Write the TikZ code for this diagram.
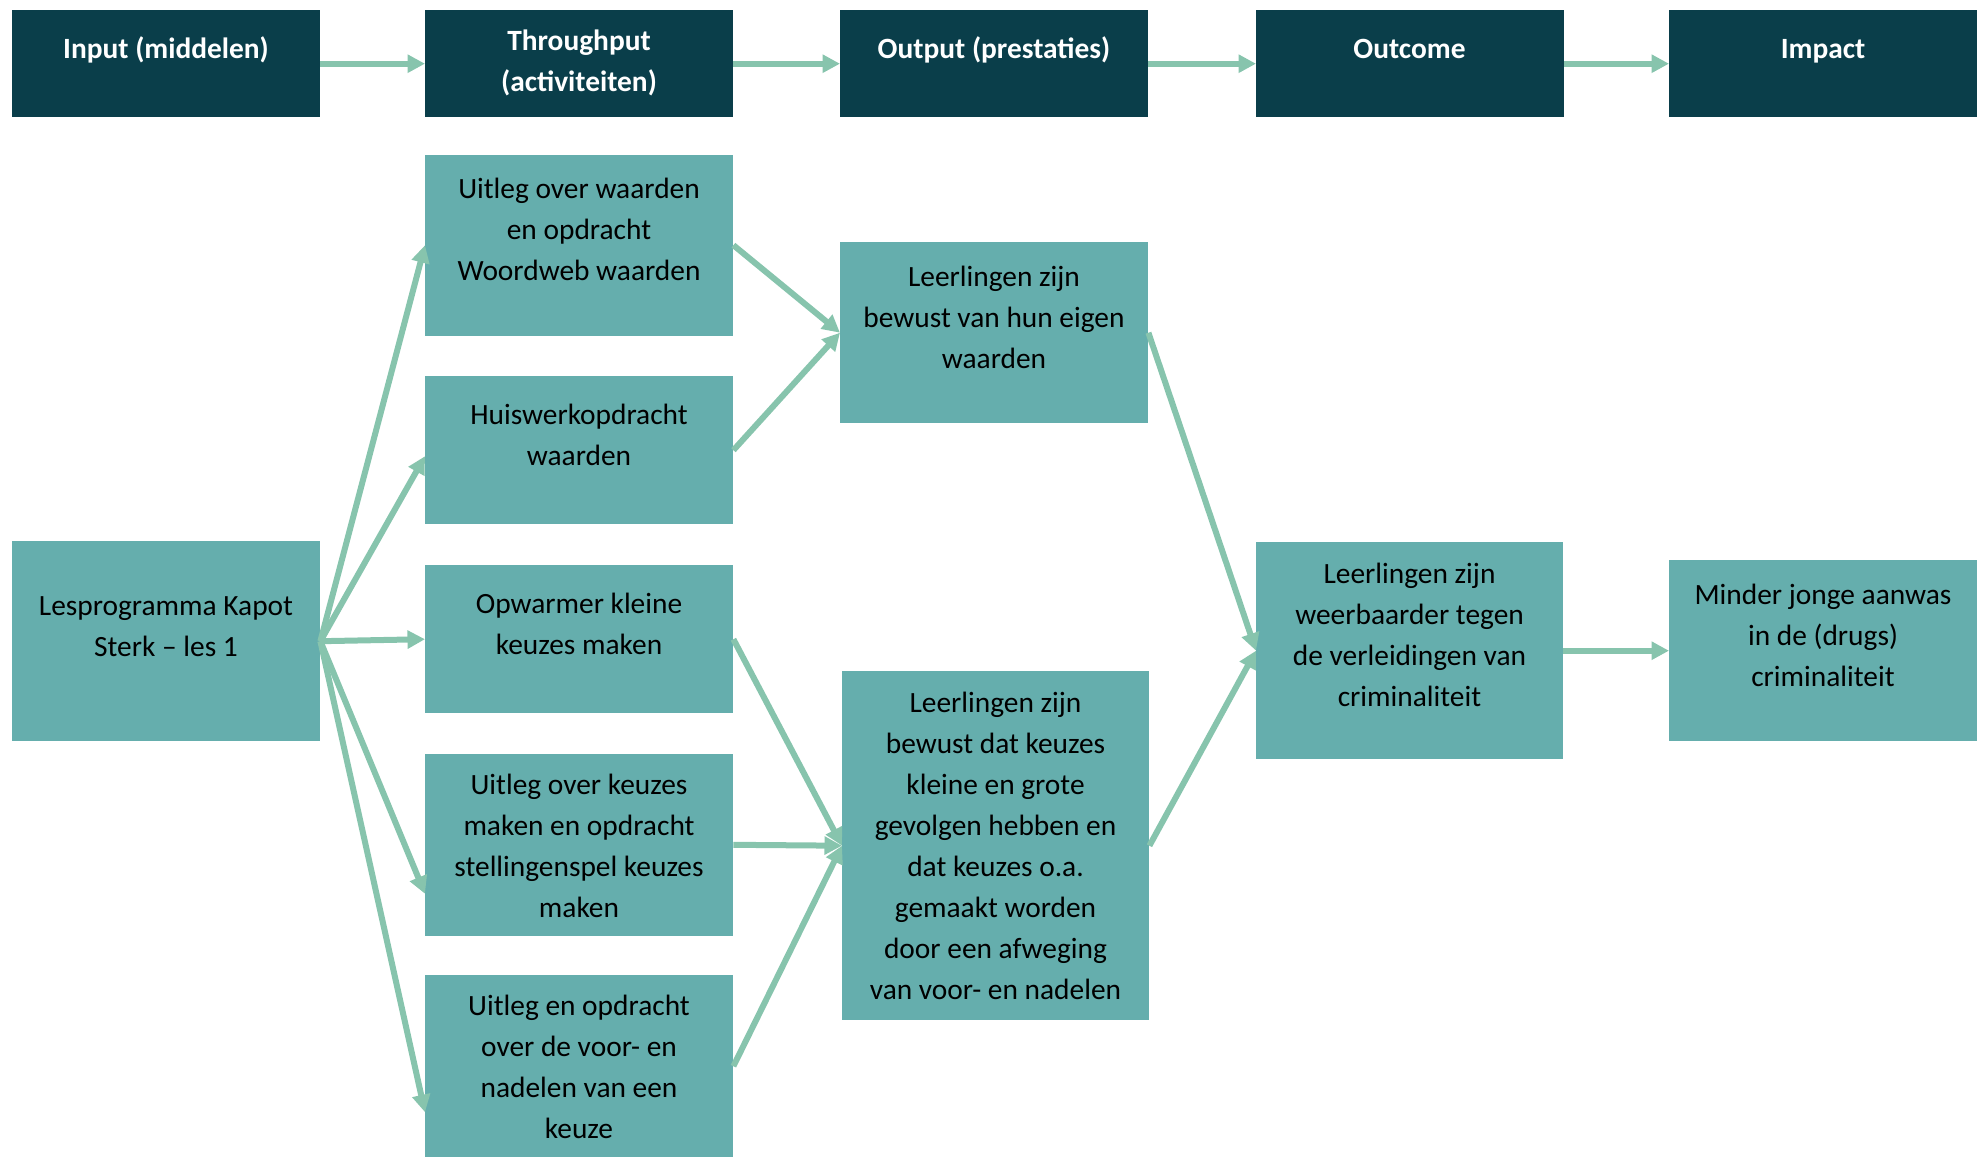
\documentclass[tikz,border=0pt]{standalone}
\usepackage{fontspec}
\setmainfont{Carlito}
\usetikzlibrary{arrows.meta}
\definecolor{headbg}{HTML}{0A3E4A}
\definecolor{boxbg}{HTML}{65AEAD}
\definecolor{linkc}{HTML}{87C4AD}

\begin{document}
\begin{tikzpicture}[x=1pt,y=-1pt,
  hbox/.style={fill=headbg, inner sep=0pt, anchor=north west, minimum width=308pt},
  bbox/.style={fill=boxbg, inner sep=0pt, anchor=north west, minimum width=308pt},
  htxt/.style={text=white, font=\fontsize{29.4}{41}\selectfont\bfseries, align=center, inner sep=0pt},
  btxt/.style={text=black, font=\fontsize{29.4}{41}\selectfont, align=center, inner sep=0pt},
  link/.style={draw=linkc, line width=6pt, -{Triangle[length=17.5pt,width=17.5pt]}}]

\useasboundingbox (0,0) rectangle (1986,1157);

% header row
\node[hbox, minimum height=107pt] (hin)  at (12,10)   {};
\node[hbox, minimum height=107pt] (hthr) at (425,10)  {};
\node[hbox, minimum height=107pt] (hout) at (840,10)  {};
\node[hbox, minimum height=107pt] (hoc)  at (1256,10) {};
\node[hbox, minimum height=107pt] (himp) at (1669,10) {};

\node[htxt, anchor=base] (hin-t)  at (166,58.5)    {Input (middelen)};
\node[htxt] (hthr-t) at (579,63)  {Throughput\\(activiteiten)};
\node[htxt, anchor=base] (hout-t) at (994,58.5)    {Output (prestaties)};
\node[htxt, anchor=base] (hoc-t)  at (1409.5,58.5) {Outcome};
\node[htxt, anchor=base] (himp-t) at (1823,58.5)   {Impact};

\draw[link] (hin.east)  -- (hthr.west);
\draw[link] (hthr.east) -- (hout.west);
\draw[link] (hout.east) -- (hoc.west);
\draw[link] (hoc.east)  -- (himp.west);

% input
\node[bbox, minimum height=200pt] (les) at (12,541) {};
\node[btxt] (les-t) at (166,627) {Lesprogramma Kapot\\Sterk – les 1};

% activities
\node[bbox, minimum height=181pt] (t1) at (425,154.5) {};
\node[bbox, minimum height=148pt] (t2) at (425,376)   {};
\node[bbox, minimum height=148pt] (t3) at (425,565)   {};
\node[bbox, minimum height=182pt] (t4) at (425,753.6) {};
\node[bbox, minimum height=182pt] (t5) at (425,975)   {};

\node[btxt] (t1-t) at (579,229)   {Uitleg over waarden\\en opdracht\\Woordweb waarden};
\node[btxt] (t2-t) at (579,434.5) {Huiswerkopdracht\\waarden};
\node[btxt] (t3-t) at (579,624)   {Opwarmer kleine\\keuzes maken};
\node[btxt] (t4-t) at (579,845.5) {Uitleg over keuzes\\maken en opdracht\\stellingenspel keuzes\\maken};
\node[btxt] (t5-t) at (579,1067)  {Uitleg en opdracht\\over de voor- en\\nadelen van een\\keuze};

% outputs
\node[bbox, minimum height=181pt] (o1) at (840,242) {};
\node[bbox, minimum height=349pt, minimum width=307pt] (o2) at (842,671) {};

\node[btxt] (o1-t) at (994,317.5)   {Leerlingen zijn\\bewust van hun eigen\\waarden};
\node[btxt] (o2-t) at (995.5,845.5) {Leerlingen zijn\\bewust dat keuzes\\kleine en grote\\gevolgen hebben en\\dat keuzes o.a.\\gemaakt worden\\door een afweging\\van voor- en nadelen};

% outcome and impact
\node[bbox, minimum height=217pt, minimum width=307pt] (oc) at (1256,542) {};
\node[bbox, minimum height=181pt] (imp) at (1669,560) {};

\node[btxt] (oc-t)  at (1409.5,635) {Leerlingen zijn\\weerbaarder tegen\\de verleidingen van\\criminaliteit};
\node[btxt] (imp-t) at (1823,635)   {Minder jonge aanwas\\in de (drugs)\\criminaliteit};

% connectors
\draw[link] (les.east) -- (t1.west);
\draw[link] (les.east) -- ([yshift=-6pt]t2.west);
\draw[link] (les.east) -- (t3.west);
\draw[link] (les.east) -- ([yshift=-49pt]t4.west);
\draw[link] (les.east) -- ([yshift=-46pt]t5.west);

\draw[link] (t1.east) -- (o1.west);
\draw[link] (t2.east) -- (o1.west);
\draw[link] (t3.east) -- (o2.west);
\draw[link] (t4.east) -- (o2.west);
\draw[link] (t5.east) -- (o2.west);

\draw[link] (o1.east) -- (oc.west);
\draw[link] (o2.east) -- (oc.west);
\draw[link] (oc.east) -- (imp.west);

\end{tikzpicture}
\end{document}
